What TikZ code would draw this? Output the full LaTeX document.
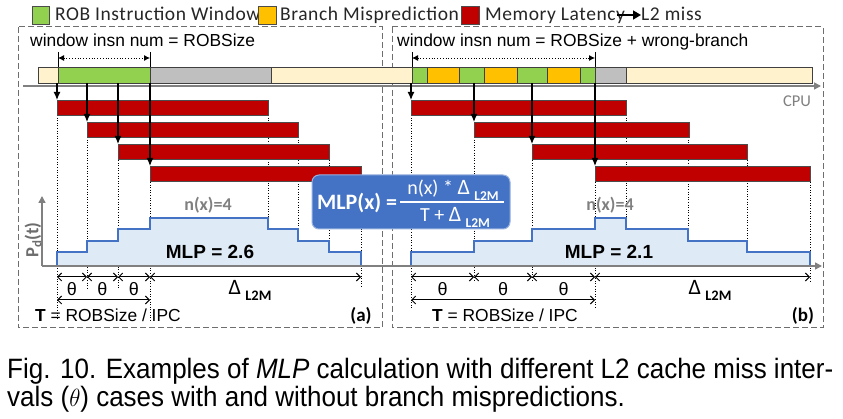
\documentclass[tikz,border=0pt]{standalone}
\usepackage{fontspec}
\setmainfont{Liberation Sans}
\newfontfamily\calfont{Carlito}
\newfontfamily\legfont[LetterSpace=2.9]{Carlito}
\usetikzlibrary{arrows.meta}
\definecolor{robgreen}{HTML}{92D050}
\definecolor{brorange}{HTML}{FFC000}
\definecolor{memred}{HTML}{C00000}
\definecolor{bargray}{HTML}{BFBFBF}
\definecolor{beige}{HTML}{FFF2CC}
\definecolor{fblue}{HTML}{4472C4}
\definecolor{lblue}{HTML}{DEEBF7}
\definecolor{axgray}{HTML}{808080}
\definecolor{boxgray}{HTML}{6E6E6E}
\newcommand\fs[1]{\fontsize{#1}{#1}\selectfont}
\newcommand\dlt[1]{{\fs{22}Δ}\hspace{0.22em}\raisebox{-0.3em}{\fs{#1}\bfseries L2M}}
\begin{document}
\begin{tikzpicture}[x=1pt,y=-1pt,
  legbox/.style={draw=black!70, line width=0.6pt},
  leg/.style={anchor=base west, font=\legfont\fs{19.5}, text=black!85, inner sep=0pt},
  wtxt/.style={anchor=base west, font=\fs{17.4}, inner sep=0pt},
  panel/.style={draw=boxgray, line width=1pt, dash pattern=on 6pt off 3pt},
  seg/.style={draw=black!75, line width=0.6pt},
  redbar/.style={fill=memred, draw=black!70, line width=0.6pt, minimum height=15.5pt, inner sep=0pt, anchor=north west},
  drop/.style={line width=1.3pt, -{Latex[length=8pt,width=7pt]}},
  guide/.style={dotted, line width=0.6pt},
  tickl/.style={line width=0.8pt},
  warrow/.style={dotted, line width=0.8pt, {Latex[length=6pt,width=6pt]}-{Latex[length=6pt,width=6pt]}},
  axisl/.style={draw=axgray, line width=1.5pt, -{Triangle[length=7pt,width=7pt]}},
  stepl/.style={draw=fblue, line width=1.3pt},
  dim/.style={line width=1pt, {Straight Barb[length=4pt,width=8pt]}-{Straight Barb[length=4pt,width=8pt]}},
  thl/.style={font=\fs{18}, inner sep=0pt},
  dll/.style={font=\calfont\fs{20}, inner sep=0pt},
  captxt/.style={anchor=base west, font=\fs{28}, inner sep=0pt},
]
\useasboundingbox[fill=white] (0,0) rectangle (843,419);

% legend
\draw[legbox, fill=robgreen] (32,6) rectangle (49,24);
\node[leg] (lt1) at (55,21) {ROB Instruction Window};
\draw[legbox, fill=brorange] (258,6) rectangle (276,24);
\node[leg] (lt2) at (280,21) {Branch Misprediction};
\draw[legbox, fill=memred] (461,6) rectangle (479,24);
\node[leg] (lt3) at (485,21) {Memory Latency};
\node[leg] (lt4) at (641,21) {L2 miss};
\coordinate (arr0) at (617,15);
\draw[line width=1.6pt, -{Triangle[length=8pt,width=9pt]}] (arr0) -- (arr0 -| lt4.west);

% panels
\draw[panel] (18,27) rectangle (382,328);
\draw[panel] (392,27) rectangle (823,328);

% window labels
\node[wtxt] (wa) at (30,47) {window insn num = ROBSize};
\node[wtxt] (wb) at (397,47) {window insn num = ROBSize + wrong-branch};

% CPU bar
\foreach \a/\b/\c in {38/58/beige,58/150/robgreen,150/271/bargray,271/412/beige,412/427/robgreen,427/459/brorange,459/484/robgreen,484/517/brorange,517/547/robgreen,547/580/brorange,580/595/robgreen,595/626/bargray,626/812/beige}
  \draw[seg, fill=\c] (\a,67) rectangle (\b,83);
\coordinate (barbot) at (0,83);

% window arrows
\coordinate (wa1) at (58,58); \coordinate (wa2) at (150,58);
\coordinate (wb1) at (412,58); \coordinate (wb2) at (595,58);
\foreach \x in {58,150,412,595} \draw[tickl] (\x,52) -- (\x,67);
\draw[warrow] (wa1) -- (wa2);
\draw[warrow] (wb1) -- (wb2);

% CPU axis
\coordinate (cpu0) at (23,86); \coordinate (cpu1) at (821,86);
\draw[axisl] (cpu0) -- (cpu1);
\node[font=\calfont\fs{16.5}, text=axgray, inner sep=0pt] (cpu) at (797,101) {CPU};

% guides (dotted)
\foreach \x/\ya/\yb in {57/115/320,87/137/288,118/160/288,150/182/320,268/115/218,298/137/229,329/160/241,361/182/288,
  411/115/308,474/137/282,532/160/282,595/182/308,626/115/218,688/137/229,747/160/241,810/182/282}
  \draw[guide] (\x,\ya) -- (\x,\yb);

% red bars
\foreach \i/\x in {1/57,2/87,3/118,4/150}
  \node[redbar, minimum width=211pt] (la\i) at (\x,{100+22*(\i-1)}) {};
\foreach \i/\x in {1/411,2/474,3/532,4/595}
  \node[redbar, minimum width=215pt] (lb\i) at (\x,{100+22*(\i-1)}) {};
\foreach \i in {1,2,3,4} {
  \draw[drop] (la\i.north west |- barbot) -- (la\i.north west);
  \draw[drop] (lb\i.north west |- barbot) -- (lb\i.north west);
}

% step functions
\fill[lblue] (57,266) -- (57,252) -- (87,252) -- (87,241) -- (118,241) -- (118,229) -- (150,229) -- (150,218) -- (268,218) -- (268,229) -- (298,229) -- (298,241) -- (329,241) -- (329,252) -- (361,252) -- (361,266) -- cycle;
\draw[stepl] (57,266) -- (57,252) -- (87,252) -- (87,241) -- (118,241) -- (118,229) -- (150,229) -- (150,218) -- (268,218) -- (268,229) -- (298,229) -- (298,241) -- (329,241) -- (329,252) -- (361,252) -- (361,266);
\fill[lblue] (411,266) -- (411,252) -- (474,252) -- (474,241) -- (532,241) -- (532,229) -- (595,229) -- (595,218) -- (626,218) -- (626,229) -- (688,229) -- (688,241) -- (747,241) -- (747,252) -- (810,252) -- (810,266) -- cycle;
\draw[stepl] (411,266) -- (411,252) -- (474,252) -- (474,241) -- (532,241) -- (532,229) -- (595,229) -- (595,218) -- (626,218) -- (626,229) -- (688,229) -- (688,241) -- (747,241) -- (747,252) -- (810,252) -- (810,266);

% time axes
\coordinate (o) at (42,266);
\draw[axisl] (o) -- (822,266);
\draw[axisl] (o) -- (42,196);

% labels on chart
\node[rotate=90, font=\calfont\bfseries\fs{18.5}, text=axgray!85!black] (pd) at (33,240) {P\textsubscript{d}(t)};
\node[font=\calfont\bfseries\fs{18}, text=axgray] (nxa) at (208,205) {n(x)=4};
\node[font=\calfont\bfseries\fs{18}, text=axgray] (nxb) at (610,205) {n(x)=4};
\node[font=\bfseries\fs{19}] (mlpa) at (210,252) {MLP = 2.6};
\node[font=\bfseries\fs{19}] (mlpb) at (609,252) {MLP = 2.1};

% dimension arrows
\foreach \a/\b in {57/87,87/118,118/150,150/361,411/474,474/532,532/595,595/810}
  \draw[dim] (\a,277) -- (\b,277);
\draw[dim] (57,300) -- (150,300);
\draw[dim] (411,300) -- (595,300);
\foreach \x in {72,102.5,134,442.5,503,563.5}
  \node[thl] at (\x,289) {θ};
\node[dll] (dla) at (250,290) {\dlt{14.5}};
\node[dll] (dlb) at (710,290) {\dlt{14.5}};
\node[wtxt] (ta) at (35,322) {\textbf{T} = ROBSize / IPC};
\node[wtxt] (tb) at (432,322) {\textbf{T} = ROBSize / IPC};
\node[anchor=base, font=\calfont\bfseries\fs{19}] (pa) at (361,322) {(a)};
\node[anchor=base, font=\calfont\bfseries\fs{19}] (pb) at (803,322) {(b)};

% formula box
\node[fill=fblue, draw=fblue!55!white, line width=1pt, rounded corners=7pt, minimum width=198pt, minimum height=54pt] (fbox) at (411,202) {};
\node[font=\calfont\bfseries\fs{22}, text=white, anchor=west, inner sep=0pt] (mlpx) at (317,203) {MLP(x) =};
\coordinate (fr1) at (400,202); \coordinate (fr2) at (504,202);
\draw[white, line width=1.2pt] (fr1) -- (fr2);
\node[font=\calfont\fs{20}, text=white, inner sep=0pt] (num) at (453,190) {n(x) * \dlt{13.5}};
\node[font=\calfont\fs{20}, text=white, inner sep=0pt] (den) at (455,217) {T + \dlt{13.5}};

% caption
\node[captxt] (cap1) at (7,378) {\scalebox{0.928}[1]{Fig. 10. Examples of \textit{MLP} calculation with different L2 cache miss inter-}};
\node[captxt] (cap2) at (7,406) {\scalebox{0.928}[1]{vals ($\theta$) cases with and without branch mispredictions.}};
\end{tikzpicture}
\end{document}
